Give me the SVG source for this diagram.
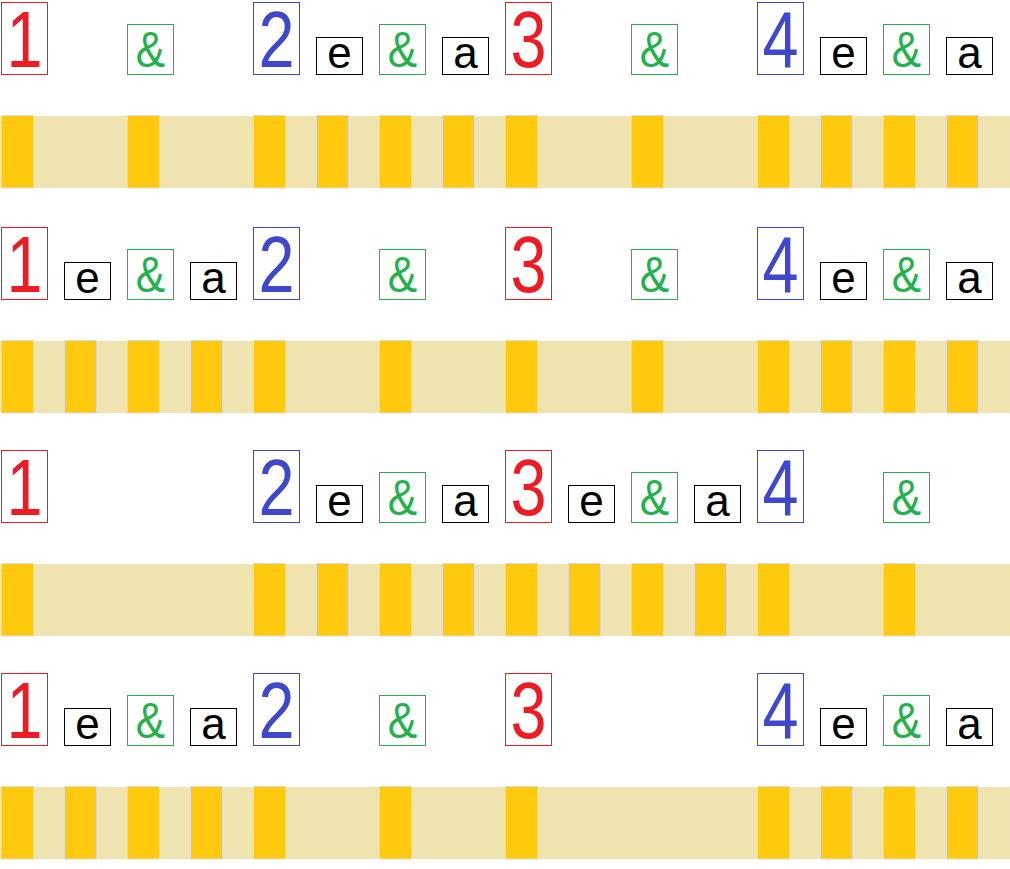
<svg xmlns="http://www.w3.org/2000/svg" width="1010" height="869" viewBox="0 0 1010 869">
<style>
.bx{fill:#fff;stroke-width:1}
.red{stroke:#ed1c24}
.blue{stroke:#3f48cc}
.grn{stroke:#22b14c}
.blk{stroke:#000}
.t{font-family:"Liberation Sans",Arial,sans-serif;text-anchor:middle}
.num{font-size:79px}
.sm{font-size:44px;fill:#000}
.amp{font-size:50px;fill:#22b14c}
.tr{fill:#ed1c24}
.tb{fill:#3f48cc}
.bar{fill:#efe4b0}
.blk2{fill:#ffc90e;stroke:#dcdcdc;stroke-width:1}
</style>
<defs>
<g id="N1"><rect class="bx red" x="0" y="2.5" width="46" height="72"/><text class="t num tr" transform="translate(23,67) scale(0.82,1)">1</text></g>
<g id="N2"><rect class="bx blue" x="0" y="2.5" width="46" height="72"/><text class="t num tb" transform="translate(23,67) scale(0.82,1)">2</text></g>
<g id="N3"><rect class="bx red" x="0" y="2.5" width="46" height="72"/><text class="t num tr" transform="translate(23,67) scale(0.82,1)">3</text></g>
<g id="N4"><rect class="bx blue" x="0" y="2.5" width="46" height="72"/><text class="t num tb" transform="translate(23,67) scale(0.82,1)">4</text></g>
<g id="E"><rect class="bx blk" x="0" y="37.5" width="46" height="37"/><text class="t sm" x="23" y="68">e</text></g>
<g id="A"><rect class="bx blk" x="0" y="37.5" width="46" height="37"/><text class="t sm" x="23" y="68">a</text></g>
<g id="P"><rect class="bx grn" x="0" y="24.5" width="46" height="50"/><text class="t amp" transform="translate(23,67) scale(0.88,1)">&amp;</text></g>
<rect id="B" class="blk2" x="0" y="115.5" width="32" height="72.5"/>
</defs>

<g id="row1">
<g id="r1-1"><use href="#N1" x="1.5"/></g>
<g id="r1-and1"><use href="#P" x="127.5"/></g>
<g id="r1-2"><use href="#N2" x="253.5"/></g>
<g id="r1-e2"><use href="#E" x="316.5"/></g>
<g id="r1-and2"><use href="#P" x="379.5"/></g>
<g id="r1-a2"><use href="#A" x="442.5"/></g>
<g id="r1-3"><use href="#N3" x="505.5"/></g>
<g id="r1-and3"><use href="#P" x="631.5"/></g>
<g id="r1-4"><use href="#N4" x="757.5"/></g>
<g id="r1-e4"><use href="#E" x="820.5"/></g>
<g id="r1-and4"><use href="#P" x="883.5"/></g>
<g id="r1-a4"><use href="#A" x="946.5"/></g>
<g id="r1-bar">
<rect class="bar" x="0" y="116" width="1010" height="72"/>
<use href="#B" x="1.5"/><use href="#B" x="127.5"/><use href="#B" x="253.5"/><use href="#B" x="316.5"/><use href="#B" x="379.5"/><use href="#B" x="442.5"/><use href="#B" x="505.5"/><use href="#B" x="631.5"/><use href="#B" x="757.5"/><use href="#B" x="820.5"/><use href="#B" x="883.5"/><use href="#B" x="946.5"/>
</g>
</g>

<g id="row2" transform="translate(0,225)">
<g id="r2-1"><use href="#N1" x="1.5"/></g>
<g id="r2-e1"><use href="#E" x="64.5"/></g>
<g id="r2-and1"><use href="#P" x="127.5"/></g>
<g id="r2-a1"><use href="#A" x="190.5"/></g>
<g id="r2-2"><use href="#N2" x="253.5"/></g>
<g id="r2-and2"><use href="#P" x="379.5"/></g>
<g id="r2-3"><use href="#N3" x="505.5"/></g>
<g id="r2-and3"><use href="#P" x="631.5"/></g>
<g id="r2-4"><use href="#N4" x="757.5"/></g>
<g id="r2-e4"><use href="#E" x="820.5"/></g>
<g id="r2-and4"><use href="#P" x="883.5"/></g>
<g id="r2-a4"><use href="#A" x="946.5"/></g>
<g id="r2-bar">
<rect class="bar" x="0" y="116" width="1010" height="72"/>
<use href="#B" x="1.5"/><use href="#B" x="64.5"/><use href="#B" x="127.5"/><use href="#B" x="190.5"/><use href="#B" x="253.5"/><use href="#B" x="379.5"/><use href="#B" x="505.5"/><use href="#B" x="631.5"/><use href="#B" x="757.5"/><use href="#B" x="820.5"/><use href="#B" x="883.5"/><use href="#B" x="946.5"/>
</g>
</g>

<g id="row3" transform="translate(0,448)">
<g id="r3-1"><use href="#N1" x="1.5"/></g>
<g id="r3-2"><use href="#N2" x="253.5"/></g>
<g id="r3-e2"><use href="#E" x="316.5"/></g>
<g id="r3-and2"><use href="#P" x="379.5"/></g>
<g id="r3-a2"><use href="#A" x="442.5"/></g>
<g id="r3-3"><use href="#N3" x="505.5"/></g>
<g id="r3-e3"><use href="#E" x="568.5"/></g>
<g id="r3-and3"><use href="#P" x="631.5"/></g>
<g id="r3-a3"><use href="#A" x="694.5"/></g>
<g id="r3-4"><use href="#N4" x="757.5"/></g>
<g id="r3-and4"><use href="#P" x="883.5"/></g>
<g id="r3-bar">
<rect class="bar" x="0" y="116" width="1010" height="72"/>
<use href="#B" x="1.5"/><use href="#B" x="253.5"/><use href="#B" x="316.5"/><use href="#B" x="379.5"/><use href="#B" x="442.5"/><use href="#B" x="505.5"/><use href="#B" x="568.5"/><use href="#B" x="631.5"/><use href="#B" x="694.5"/><use href="#B" x="757.5"/><use href="#B" x="883.5"/>
</g>
</g>

<g id="row4" transform="translate(0,671)">
<g id="r4-1"><use href="#N1" x="1.5"/></g>
<g id="r4-e1"><use href="#E" x="64.5"/></g>
<g id="r4-and1"><use href="#P" x="127.5"/></g>
<g id="r4-a1"><use href="#A" x="190.5"/></g>
<g id="r4-2"><use href="#N2" x="253.5"/></g>
<g id="r4-and2"><use href="#P" x="379.5"/></g>
<g id="r4-3"><use href="#N3" x="505.5"/></g>
<g id="r4-4"><use href="#N4" x="757.5"/></g>
<g id="r4-e4"><use href="#E" x="820.5"/></g>
<g id="r4-and4"><use href="#P" x="883.5"/></g>
<g id="r4-a4"><use href="#A" x="946.5"/></g>
<g id="r4-bar">
<rect class="bar" x="0" y="116" width="1010" height="72"/>
<use href="#B" x="1.5"/><use href="#B" x="64.5"/><use href="#B" x="127.5"/><use href="#B" x="190.5"/><use href="#B" x="253.5"/><use href="#B" x="379.5"/><use href="#B" x="505.5"/><use href="#B" x="757.5"/><use href="#B" x="820.5"/><use href="#B" x="883.5"/><use href="#B" x="946.5"/>
</g>
</g>
<g id="connectors"/>
</svg>
